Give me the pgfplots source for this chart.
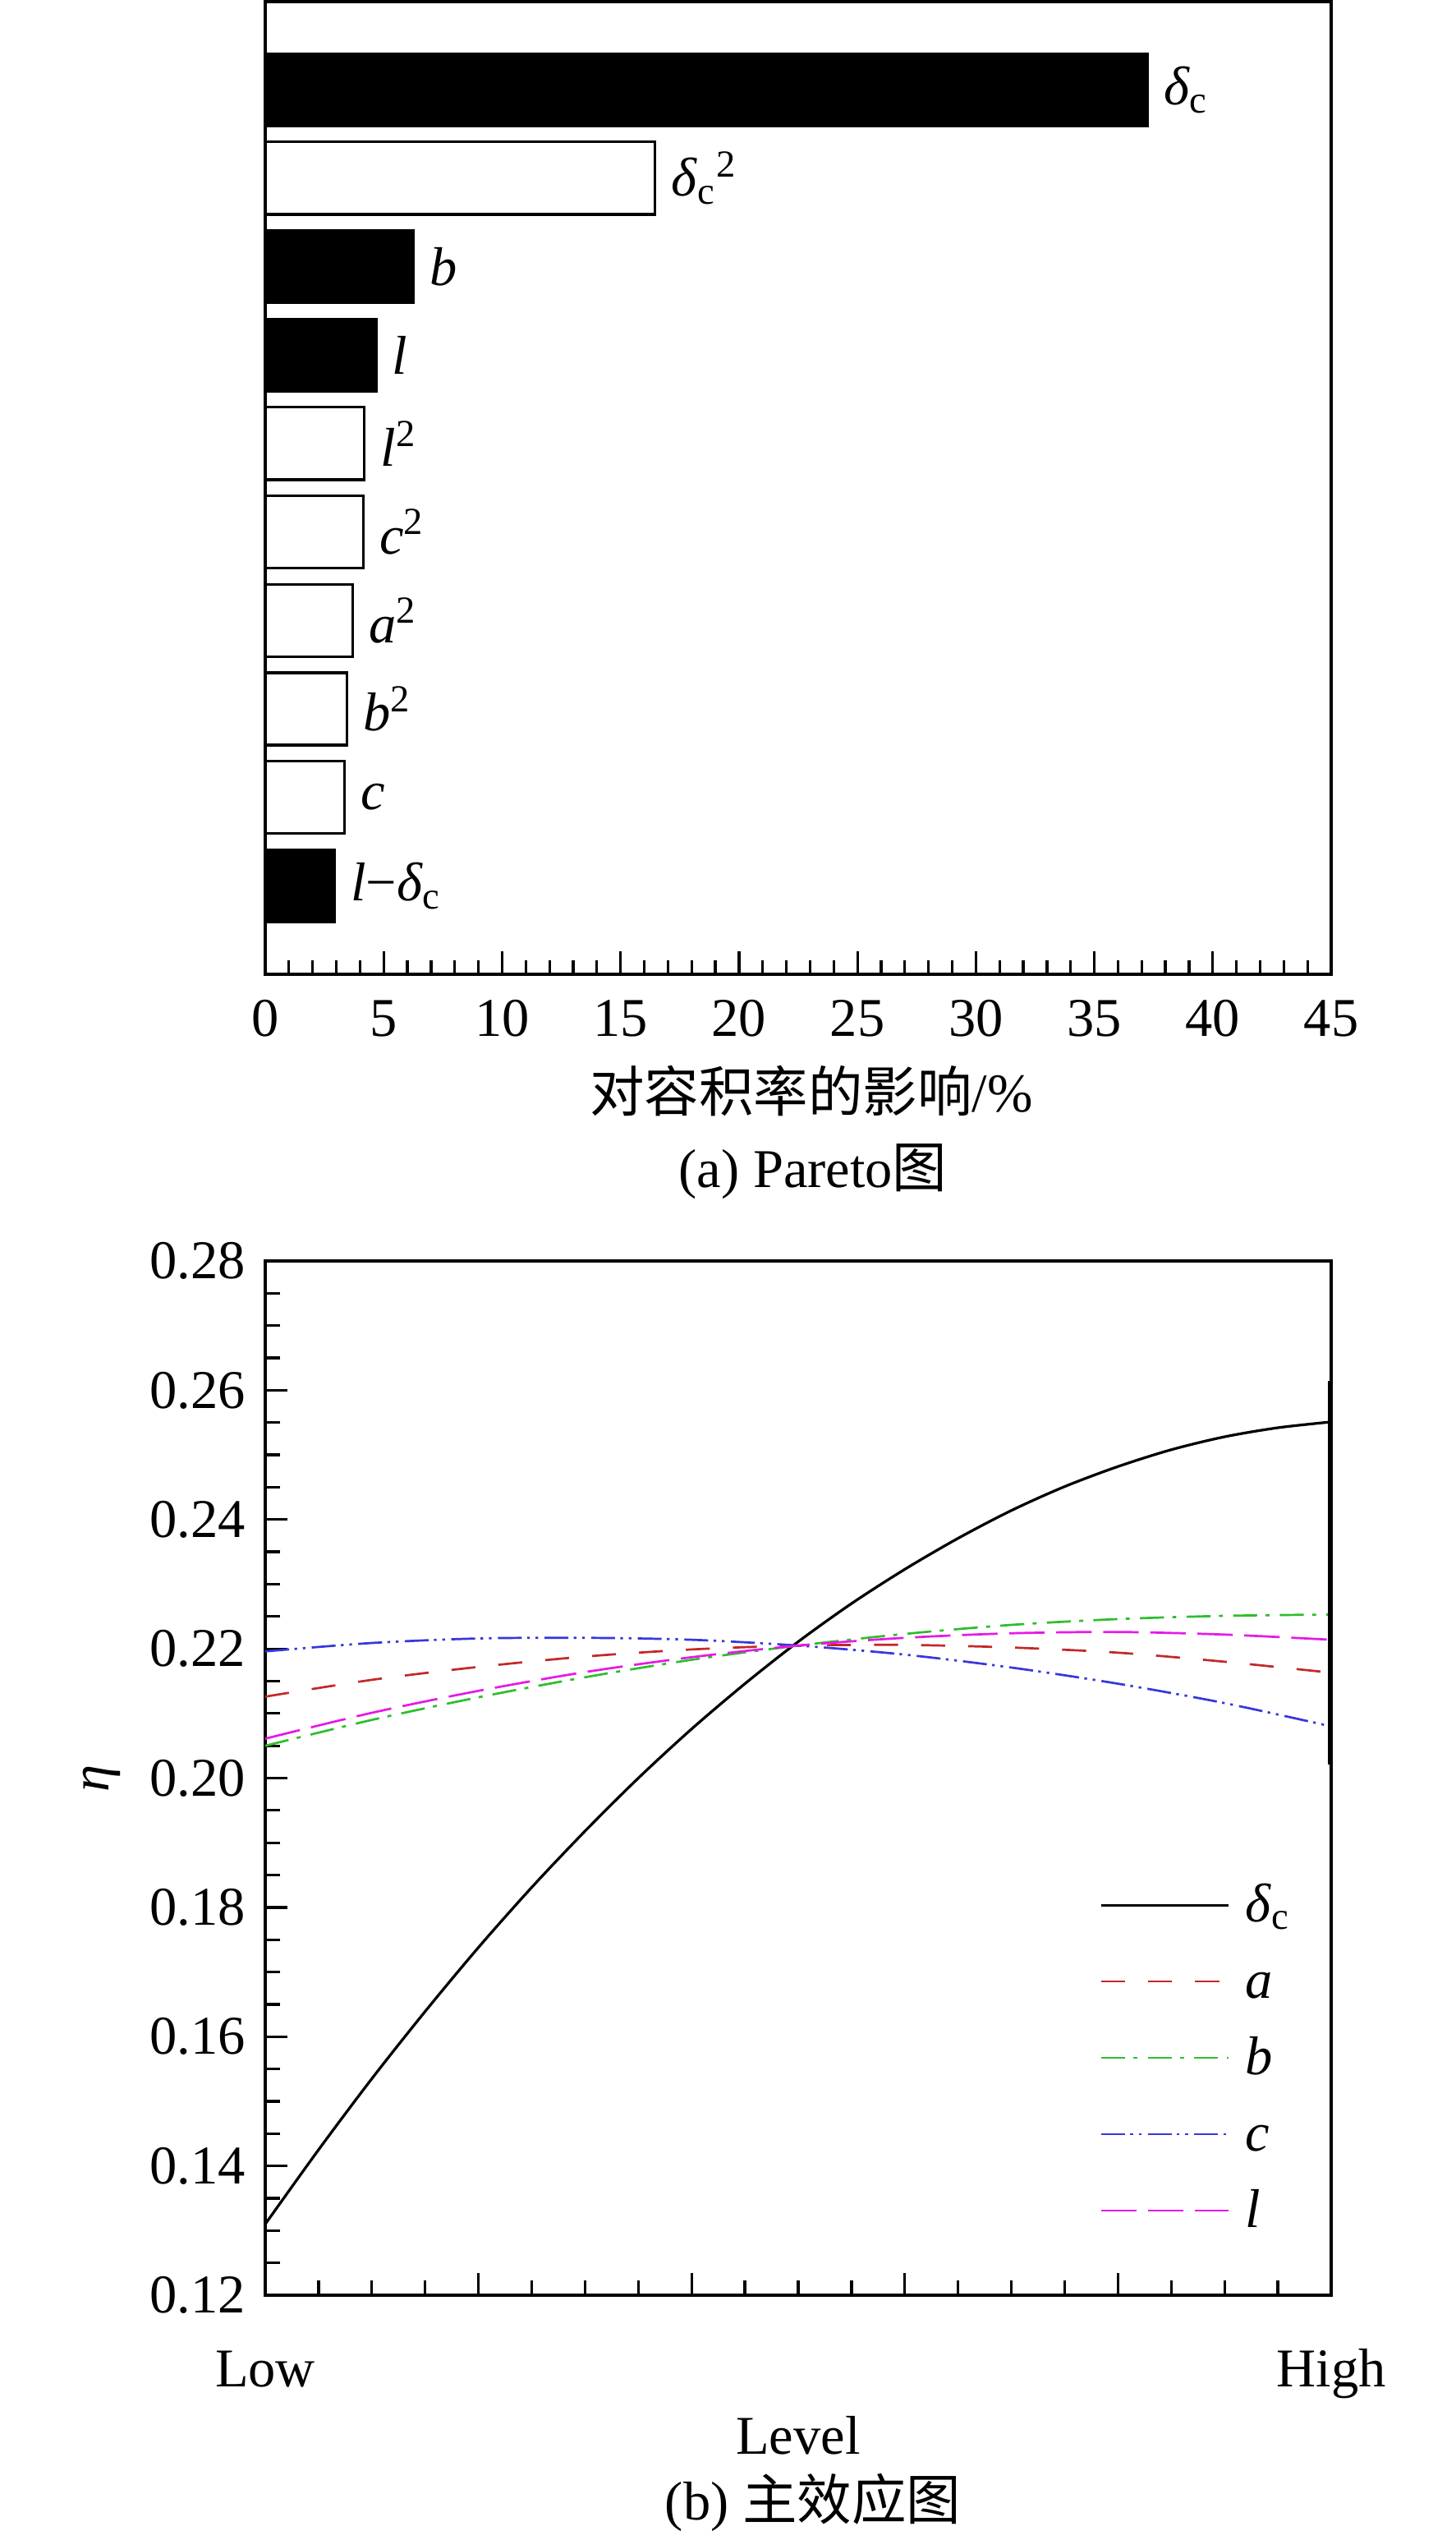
\documentclass[border=0pt]{standalone}
\usepackage{fontspec}
\setmainfont{Liberation Serif}
\newfontfamily\cjk{Noto Sans CJK SC}
\usepackage{pgfplots}
\pgfplotsset{compat=1.18}
\definecolor{cred}{RGB}{195,40,40}
\definecolor{cgreen}{RGB}{45,190,45}
\definecolor{cblue}{RGB}{55,55,220}
\definecolor{cmag}{RGB}{230,25,230}
\begin{document}
\fontsize{12.3}{14.8}\selectfont
\begin{tikzpicture}[font=\fontsize{12.3}{14.8}\selectfont]
\path[use as bounding box] (0pt,0pt) rectangle (327.82pt,-572.02pt);

\begin{axis}[
  at={(59.755pt,-219.41pt)}, anchor=south west,
  scale only axis, width=240.13pt, height=219.13pt,
  xbar, bar width=16.3pt, bar shift=0pt,
  xmin=0, xmax=45, ymin=0, ymax=11,
  xtick={0,5,10,15,20,25,30,35,40,45}, minor x tick num=4,
  ytick=\empty,
  tick pos=left, tick align=inside,
  major tick length=5.2pt, minor tick length=3.1pt,
  tick style={line width=0.6pt, black},
  axis line style={line width=0.75pt},
  /pgf/number format/assume math mode=true,
  xticklabel style={anchor=base, inner sep=0pt, yshift=-13.9pt},
  xlabel={{\cjk 对容积率的影响}/\%},
  xlabel style={at={(axis description cs:0.5123,-0.1418)}, anchor=base, inner sep=0pt},
  nodes near coords, point meta=explicit symbolic,
  nodes near coords style={anchor=west, inner sep=0pt, xshift=3.4pt},
]
\addplot[fill=black, draw=black, line width=0.6pt] coordinates {
  (37.24,10) [\textit{δ}\textsubscript{c}]
  (6.27,8) [\textit{b}]
  (4.68,7) [\textit{l}]
  (2.92,1) [\textit{l}−\textit{δ}\textsubscript{c}]
};
\addplot[fill=white, draw=black, line width=0.6pt] coordinates {
  (16.46,9) [\textit{δ}\textsubscript{c}\textsuperscript{2}]
  (4.19,6) [\textit{l}\textsuperscript{2}]
  (4.13,5) [\textit{c}\textsuperscript{2}]
  (3.69,4) [\textit{a}\textsuperscript{2}]
  (3.45,3) [\textit{b}\textsuperscript{2}]
  (3.35,2) [\textit{c}]
};
\end{axis}

\node[anchor=base, inner sep=0pt] at (183.15pt,-267.33pt) {(a) Pareto{\cjk 图}};

\begin{axis}[
  at={(59.755pt,-516.89pt)}, anchor=south west,
  scale only axis, width=240.13pt, height=232.92pt,
  xmin=0, xmax=1, ymin=0.12, ymax=0.28,
  xtick={0,0.2,0.4,0.6,0.8,1}, xticklabels={Low,,,,,High},
  minor x tick num=3,
  ytick={0.12,0.14,0.16,0.18,0.20,0.22,0.24,0.26,0.28}, minor y tick num=3,
  tick pos=left, tick align=inside,
  major tick length=5pt, minor tick length=3.3pt,
  tick style={line width=0.6pt, black},
  axis line style={line width=0.75pt},
  /pgf/number format/assume math mode=true,
  yticklabel style={/pgf/number format/.cd, fixed, fixed zerofill, precision=2, /tikz/.cd, anchor=east, inner sep=0pt, xshift=-4.26pt},
  xticklabel style={anchor=base, inner sep=0pt, yshift=-20.7pt},
  xlabel={Level},
  xlabel style={at={(axis description cs:0.5,-0.1533)}, anchor=base, inner sep=0pt},
  ylabel={\textit{η}},
  ylabel style={at={(axis description cs:-0.1471,0.5)}, anchor=base, inner sep=0pt},
  legend cell align=left,
  legend style={draw=none, fill=none, inner sep=0pt, at={(0.782,0.4051)}, anchor=north west,
    row sep=0pt, column sep=3.5pt, cells={anchor=base west},
    nodes={inner sep=0pt, text height=10pt, text depth=7.2pt}},
  legend image code/.code={\draw[#1] (0pt,3.7pt) -- (28.7pt,3.7pt);},
]
\addplot[black, line width=0.6pt, smooth] coordinates {
 (0,0.1310) (0.05,0.1425) (0.1,0.1535) (0.15,0.1639) (0.2,0.1738) (0.25,0.1831)
 (0.3,0.1918) (0.35,0.2000) (0.4,0.2076) (0.45,0.2146) (0.5,0.2211) (0.55,0.2270)
 (0.6,0.2323) (0.65,0.2371) (0.7,0.2414) (0.75,0.2451) (0.8,0.2482) (0.85,0.2508)
 (0.9,0.2528) (0.95,0.2542) (1,0.2551)};
\addlegendentry{\textit{δ}\textsubscript{c}}
\addplot[cred, line width=0.5pt, smooth, dash pattern=on 5.4pt off 5.2pt] coordinates {
 (0,0.2126) (0.1,0.2152) (0.2,0.2172) (0.3,0.2188) (0.4,0.2199) (0.5,0.2205)
 (0.6,0.2206) (0.7,0.2202) (0.8,0.2194) (0.9,0.2180) (1,0.2163)};
\addlegendentry{\textit{a}}
\addplot[cgreen, line width=0.5pt, smooth, dash pattern=on 5.4pt off 1.9pt on 0.9pt off 2.3pt] coordinates {
 (0,0.2050) (0.1,0.2090) (0.2,0.2125) (0.3,0.2156) (0.4,0.2183) (0.5,0.2205)
 (0.6,0.2223) (0.7,0.2237) (0.8,0.2246) (0.9,0.2251) (1,0.2253)};
\addlegendentry{\textit{b}}
\addplot[cblue, line width=0.5pt, smooth, dash pattern=on 5.4pt off 1.2pt on 0.6pt off 1.3pt on 0.6pt off 1.4pt] coordinates {
 (0,0.2196) (0.1,0.2209) (0.2,0.2216) (0.3,0.2217) (0.4,0.2214) (0.5,0.2205)
 (0.6,0.2191) (0.7,0.2171) (0.8,0.2146) (0.9,0.2116) (1,0.2080)};
\addlegendentry{\textit{c}}
\addplot[cmag, line width=0.5pt, smooth, dash pattern=on 8pt off 2.6pt] coordinates {
 (0,0.2061) (0.1,0.2101) (0.2,0.2135) (0.3,0.2164) (0.4,0.2187) (0.5,0.2205)
 (0.6,0.2217) (0.7,0.2224) (0.8,0.2226) (0.9,0.2222) (1,0.2214)};
\addlegendentry{\textit{l}}
\addplot[black, line width=1.4pt, forget plot] coordinates {(1,0.2021) (1,0.2615)};
\end{axis}

\node[anchor=base, inner sep=0pt] at (183.15pt,-567.4pt) {(b) {\cjk 主效应图}};
\end{tikzpicture}
\end{document}
